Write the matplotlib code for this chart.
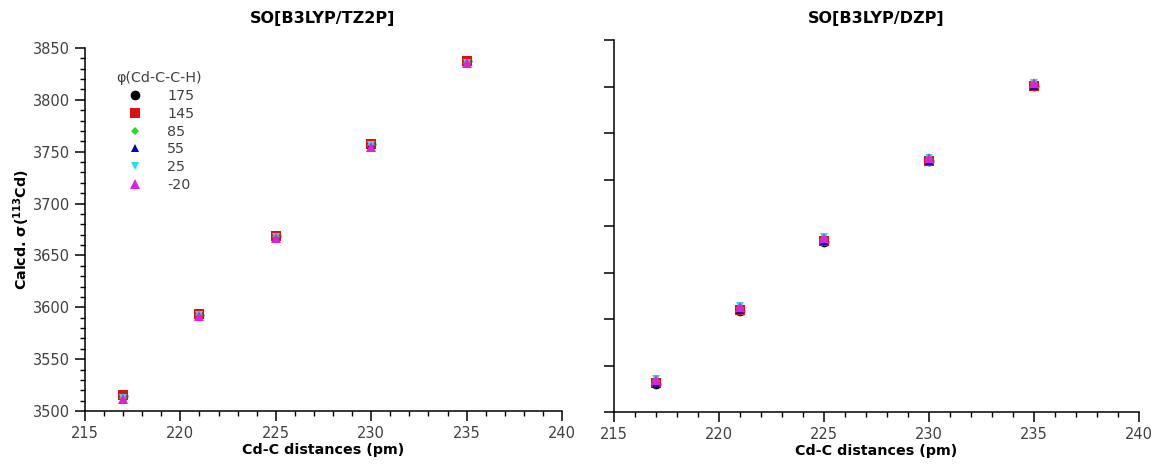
#!/usr/bin/env python3
"""
Calculated 113Cd shielding vs. Cd-C distance for several Cd-C-C-H dihedrals,
SO[B3LYP/TZ2P] (left) and SO[B3LYP/DZP] (right).

Saves: out.png
"""

import matplotlib.pyplot as plt
from matplotlib.ticker import MultipleLocator

# Cd-C distances (pm)
DIST = [217, 221, 225, 230, 235]

# dihedral angles phi(Cd-C-C-H)
PHI = ["175", "145", "85", "55", "25", "-20"]

# SO[B3LYP/TZ2P] shielding, one list per dihedral
TZ2P_175 = [3514, 3593, 3669, 3757, 3837]
TZ2P_145 = [3515, 3594, 3669, 3757, 3837]
TZ2P_85 = [3513, 3593, 3668, 3756, 3836]
TZ2P_55 = [3512, 3592, 3668, 3756, 3836]
TZ2P_25 = [3513, 3593, 3668, 3756, 3836]
TZ2P_M20 = [3512, 3592, 3667, 3755, 3836]

# SO[B3LYP/DZP] shielding
DZP_175 = [3480, 3559, 3633, 3720, 3801]
DZP_145 = [3481, 3560, 3634, 3720, 3801]
DZP_85 = [3483, 3562, 3636, 3722, 3803]
DZP_55 = [3480, 3560, 3634, 3720, 3801]
DZP_25 = [3485, 3564, 3638, 3723, 3804]
DZP_M20 = [3484, 3563, 3637, 3723, 3804]

TZ2P = [TZ2P_175, TZ2P_145, TZ2P_85, TZ2P_55, TZ2P_25, TZ2P_M20]
DZP = [DZP_175, DZP_145, DZP_85, DZP_55, DZP_25, DZP_M20]

# marker style per dihedral
COLORS = ["#000000", "#e01010", "#22dd22", "#0000b0", "#22e0f0", "#e020e0"]
MARKERS = ["o", "s", "D", "^", "v", "^"]
SIZES = [7, 7, 4.5, 6, 6, 6.5]

TICK_COLOR = "#404040"


def style_axis(ax, show_ylabels=True, y_minor=True):
    for side in ("top", "right"):
        ax.spines[side].set_visible(False)
    for side in ("left", "bottom"):
        ax.spines[side].set_linewidth(1.1)
    ax.set_xlim(215, 240)
    ax.xaxis.set_major_locator(MultipleLocator(5))
    ax.xaxis.set_minor_locator(MultipleLocator(1))
    ax.yaxis.set_major_locator(MultipleLocator(50))
    if y_minor:
        ax.yaxis.set_minor_locator(MultipleLocator(10))
    ax.tick_params(which="major", direction="out", length=7, width=1.1,
                   labelsize=10.5, labelcolor=TICK_COLOR)
    ax.tick_params(which="minor", direction="out", length=3.5, width=1.0)
    if not show_ylabels:
        ax.tick_params(axis="y", labelleft=False)
    ax.set_xlabel("Cd-C distances (pm)", fontsize=10.3, fontweight="bold", labelpad=2)


def draw_series(ax, data):
    for vals, phi, c, m, s in zip(data, PHI, COLORS, MARKERS, SIZES):
        ax.plot(DIST, vals, linestyle="none", marker=m, markersize=s,
                color=c, markeredgewidth=0, label=phi, zorder=3)


def main():
    fig = plt.figure(figsize=(11.54, 4.68), dpi=100)

    ax1 = fig.add_axes([85 / 1154, 57 / 468, 477 / 1154, 363 / 468])
    ax2 = fig.add_axes([614 / 1154, 56 / 468, 525 / 1154, 372 / 468])

    draw_series(ax1, TZ2P)
    ax1.set_ylim(3500, 3850)
    style_axis(ax1)
    ax1.set_ylabel(r"Calcd. σ($\mathbf{^{113}}$Cd)", fontsize=10.3,
                   fontweight="bold", labelpad=1)

    draw_series(ax2, DZP)
    ax2.set_ylim(3450, 3850)
    style_axis(ax2, show_ylabels=False, y_minor=False)

    fig.text(323 / 1154, 1 - 18 / 468, "SO[B3LYP/TZ2P]", ha="center", va="center",
             fontsize=11.5, fontweight="bold")
    fig.text(876 / 1154, 1 - 18 / 468, "SO[B3LYP/DZP]", ha="center", va="center",
             fontsize=11.5, fontweight="bold")

    leg = ax1.legend(
        title="φ(Cd-C-C-H)",
        loc="upper left",
        bbox_to_anchor=(0.05, 0.955),
        frameon=False,
        fontsize=10.3,
        title_fontsize=10.3,
        borderpad=0,
        labelspacing=0.26,
        handlelength=1.6,
        handletextpad=1.5,
        numpoints=1,
    )
    for t in leg.get_texts():
        t.set_color(TICK_COLOR)
    leg.get_title().set_color(TICK_COLOR)

    fig.savefig("out.png", dpi=100)
    plt.close(fig)


if __name__ == "__main__":
    main()
